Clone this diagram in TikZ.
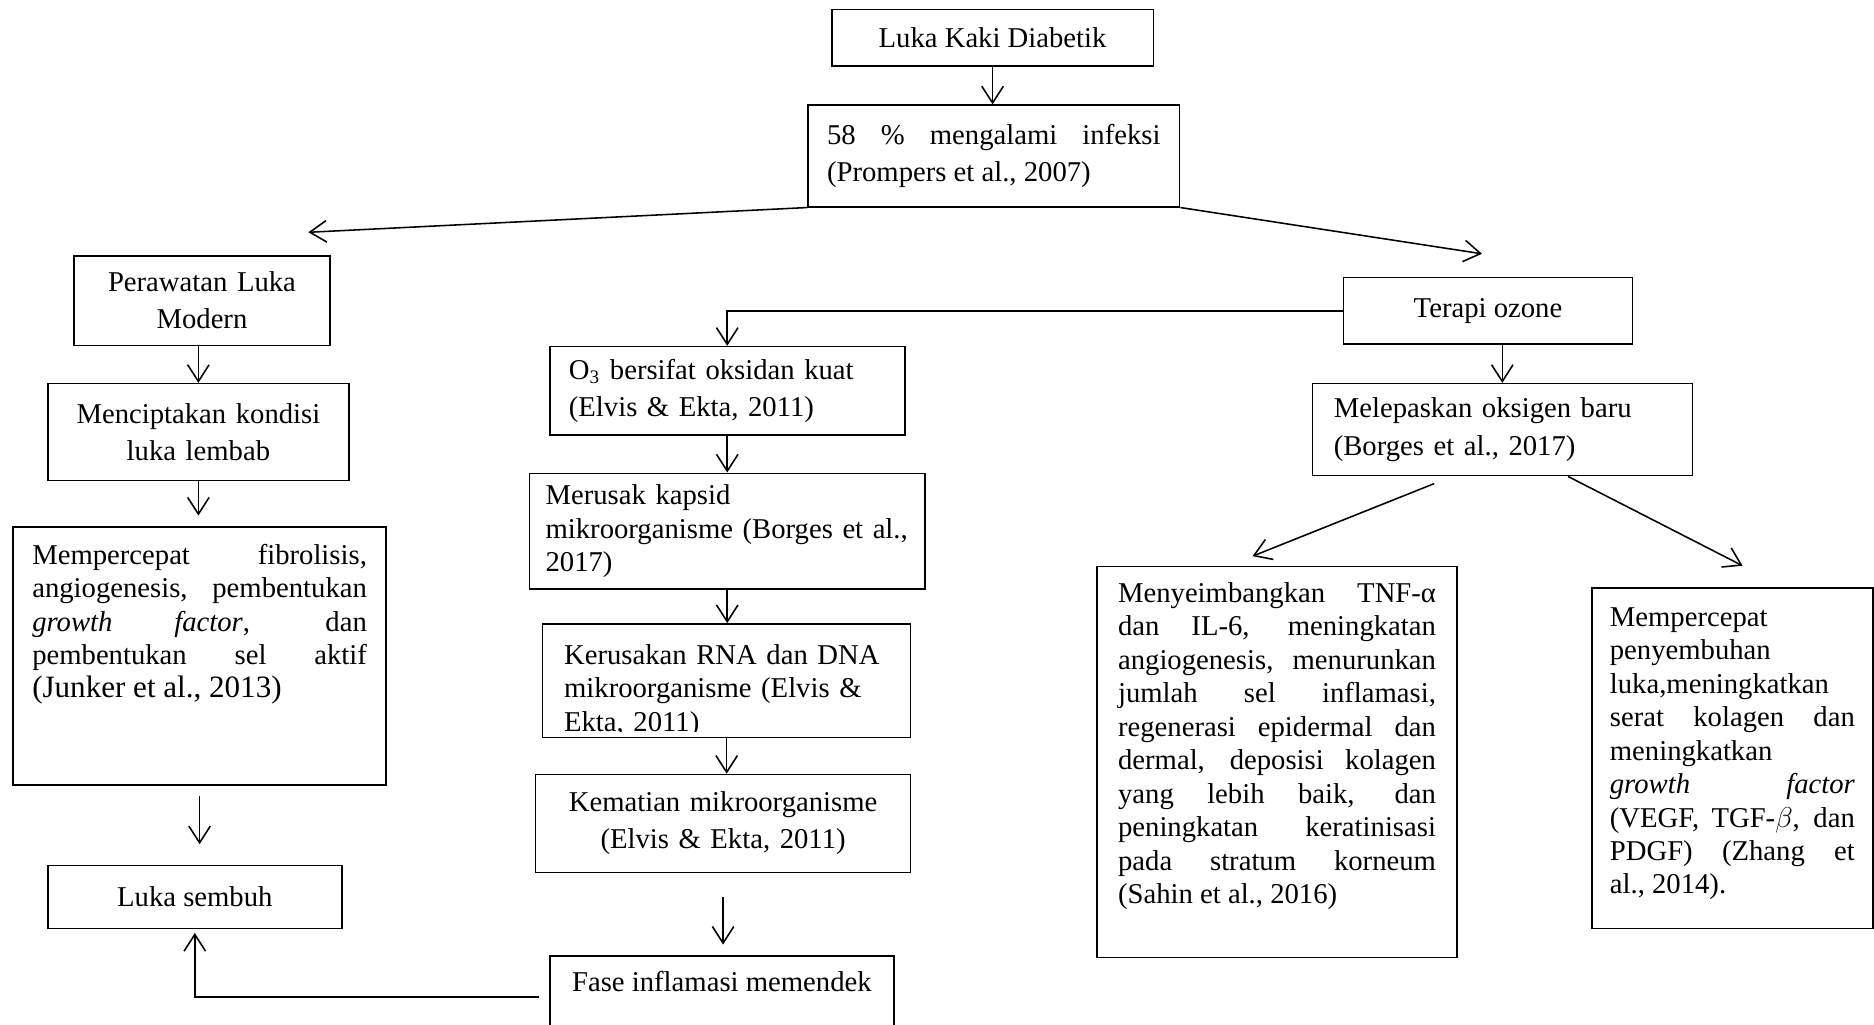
\documentclass[tikz,border=0pt]{standalone}
\usepackage{fontspec}
\setmainfont{Liberation Serif}
\usetikzlibrary{arrows.meta}
\tolerance=9999
\hyphenpenalty=10000

\tikzset{
  kotak/.style={draw, line width=0.65pt, inner xsep=8pt, inner ysep=0pt,
    font=\fontsize{12}{14}\selectfont},
  dua/.style={font=\fontsize{12}{15.5}\selectfont},
  panah/.style={-{Straight Barb[length=7pt,width=9pt]}, line width=0.65pt}
}

\begin{document}
\begin{tikzpicture}[x=0.5pt,y=-0.5pt]
   \useasboundingbox (0,0) rectangle (1568,857);
   \clip (0,0) rectangle (1568,857);

   %% Kotak atas
   \node[kotak, minimum width=134.5pt, minimum height=23.5pt] (diab) at (830.5,31.5) {Luka Kaki Diabetik};
   \node[kotak, dua, text width=139.5pt, align=justify, minimum height=42.5pt] (infeksi) at (831.5,130.5)
      {58 \% mengalami infeksi\linebreak (Prompers et al., 2007)};

   %% Kolom kiri
   \node[kotak, dua, text width=91pt, align=center, minimum height=37.5pt] (rawat) at (169,251.5) {Perawatan Luka\\Modern};
   \node[kotak, dua, text width=110pt, align=center, minimum height=40.5pt] (lembab) at (166,361.5) {Menciptakan kondisi\\luka lembab};
   \node[kotak, text width=140pt, align=justify, text height=9pt, text depth=86pt, inner ysep=6.5pt] (fibro) at (167,549)
      {Mempercepat fibrolisis,\linebreak angiogenesis, pembentukan\linebreak \textit{growth factor}, dan\linebreak
       pembentukan sel aktif\linebreak {\fontsize{13}{15}\selectfont(Junker et al., 2013)}};
   \node[kotak, minimum width=123pt, minimum height=26.5pt] (sembuh) at (163,750.5) {Luka sembuh};

   %% Kolom tengah
   \node[kotak, minimum width=121pt, minimum height=28pt] (ozon) at (1245,260) {Terapi ozone};
   \node[kotak, dua, text width=132.5pt, align=left, minimum height=37pt] (oksidan) at (608.5,327)
      {O\textsubscript{3} bersifat oksidan kuat\\(Elvis \& Ekta, 2011)};
   \node[kotak, text width=152pt, inner xsep=6.75pt, align=left, minimum height=48.5pt] (kapsid) at (608.5,444.5)
      {Merusak kapsid\\mikroorganisme (Borges et al.,\\2017)};
   \node[kotak, minimum width=154pt, minimum height=47.5pt] (rna) at (608,569.5) {};
   \begin{scope}
      \clip ([yshift=3pt]rna.south west) rectangle (rna.north east);
      \node[kotak, draw=none, anchor=north west, text width=136pt, inner xsep=9pt, inner ysep=8pt,
         text height=9pt, align=left] (rnateks) at (rna.north west)
         {Kerusakan RNA dan DNA\\mikroorganisme (Elvis \&\\Ekta, 2011)};
   \end{scope}
   \node[kotak, dua, text width=141pt, align=center, minimum height=41pt] (mati) at (605,689)
      {Kematian mikroorganisme\\(Elvis \& Ekta, 2011)};
   \node[kotak, minimum width=144pt, text height=9pt, text depth=13pt, inner ysep=6pt] (fase) at (604,834)
      {Fase inflamasi memendek};

   %% Kolom kanan
   \node[kotak, dua, text width=141pt, inner xsep=9pt, align=left, minimum height=38.5pt] (oksigen) at (1257,359.5)
      {Melepaskan oksigen baru\\(Borges et al., 2017)};
   \node[kotak, text width=133pt, inner xsep=8.75pt, align=justify, text height=9pt, text depth=142.5pt, inner ysep=6pt] (sahin) at (1068.5,637.5)
      {Menyeimbangkan TNF-α\linebreak dan IL-6, meningkatan\linebreak angiogenesis, menurunkan\linebreak
       jumlah sel inflamasi,\linebreak regenerasi epidermal dan\linebreak dermal, deposisi kolagen\linebreak
       yang lebih baik, dan\linebreak peningkatan keratinisasi\linebreak pada stratum korneum\linebreak (Sahin et al., 2016)};
   \node[kotak, text width=102.5pt, inner xsep=7.5pt, align=justify, text height=9pt, text depth=119.5pt, inner ysep=7pt] (zhang) at (1449.5,634.5)
      {Mempercepat\linebreak penyembuhan\linebreak luka,meningkatkan\linebreak serat kolagen dan\linebreak meningkatkan\linebreak
       \textit{growth factor}\linebreak (VEGF, TGF-$\beta$, dan\linebreak PDGF) (Zhang et\linebreak al., 2014).};

   %% Panah
   \draw[panah] (diab.south) -- (diab.south |- infeksi.north);
   \draw[panah] (infeksi.south west) -- ([shift={(44.5pt,9.5pt)}]rawat.north);
   \draw[panah] (infeksi.south east) -- ([shift={(-2.5pt,9.5pt)}]ozon.north);

   \draw[panah] (rawat.south -| lembab.north) -- (lembab.north);
   \draw[panah, shorten >=4.5pt] (lembab.south) -- (lembab.south |- fibro.north);
   \draw[panah, shorten <=4pt, shorten >=8.5pt] (fibro.south) -- (fibro.south |- sembuh.north);
   \draw[panah, shorten <=4pt, shorten >=1.5pt] (fase.west) -| (sembuh.south);

   \draw[panah] (ozon.west) -| (oksidan.north);
   \draw[panah] (oksidan.south) -- (oksidan.south |- kapsid.north);
   \draw[panah] (kapsid.south) -- (kapsid.south |- rna.north);
   \draw[panah] (rna.south) -- (rna.south |- mati.north);
   \draw[panah, shorten <=10pt, shorten >=4.5pt] (mati.south) -- (mati.south |- fase.north);

   \draw[panah] (oksigen.north |- ozon.south) -- (oksigen.north);
   \draw[panah] ([shift={(-28.5pt,-3pt)}]oksigen.south) -- ([shift={(-10.25pt,4pt)}]sahin.north);
   \draw[panah] ([xshift=27.5pt]oksigen.south) -- ([shift={(4.25pt,9pt)}]zhang.north);
\end{tikzpicture}
\end{document}
